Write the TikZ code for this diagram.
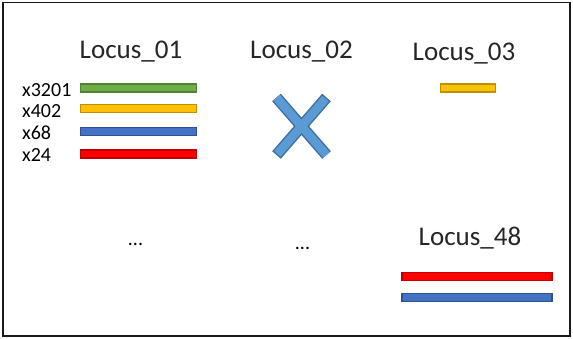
\documentclass[tikz,border=0pt]{standalone}
\usepackage{fontspec}
\setmainfont{Carlito}
\definecolor{grnfill}{HTML}{70AD47}
\definecolor{grnline}{HTML}{548235}
\definecolor{ylwfill}{HTML}{FFC000}
\definecolor{ylwline}{HTML}{BF9000}
\definecolor{bluefill}{HTML}{4472C4}
\definecolor{blueline}{HTML}{2F528F}
\definecolor{redfill}{HTML}{FF0000}
\definecolor{redline}{HTML}{C00000}
\definecolor{crossfill}{HTML}{5B9BD5}
\definecolor{crossline}{HTML}{41719C}
\tikzset{
  locus/.style={anchor=base, inner sep=0pt, font=\fontsize{27}{32}\selectfont, text=black!85},
  count/.style={anchor=base west, inner sep=0pt, font=\fontsize{20}{24}\selectfont},
  dots/.style={anchor=base, inner sep=0pt, font=\fontsize{20}{24}\selectfont},
  bar/.style={rectangle, inner sep=0pt, line width=1.5pt, minimum height=8pt},
  greenbar/.style={bar, fill=grnfill, draw=grnline},
  yellowbar/.style={bar, fill=ylwfill, draw=ylwline},
  bluebar/.style={bar, fill=bluefill, draw=blueline},
  redbar/.style={bar, fill=redfill, draw=redline},
}
\begin{document}
\begin{tikzpicture}[x=1pt, y=-1pt]
  \useasboundingbox (0,0) rectangle (573,339);
  % outer frame
  \draw[line width=1.5pt, black!90] (3,2.5) rectangle (570,336);

  % locus titles
  \node[locus] (l01) at (131,59) {Locus\_01};
  \node[locus] (l02) at (301.5,59) {Locus\_02};
  \node[locus] (l03) at (464,61) {Locus\_03};
  \node[locus] (l48) at (470,246) {Locus\_48};

  % read counts and their bars at Locus_01
  \node[count] (c1) at (22,97) {x3201};
  \node[count] (c2) at (22,118) {x402};
  \node[count] (c3) at (22,140) {x68};
  \node[count] (c4) at (22,162) {x24};
  \node[greenbar, minimum width=116pt] (b1) at (138.5,88) {};
  \node[yellowbar, minimum width=116pt] (b2) at (138.5,108.3) {};
  \node[bluebar, minimum width=116pt] (b3) at (138.5,131.3) {};
  \node[redbar, minimum width=116pt] (b4) at (138.5,154.2) {};

  % missing Locus_02: a cross
  \coordinate (xa) at (276.5,97.5);
  \coordinate (xb) at (326.5,155);
  \coordinate (xc) at (326.5,97.5);
  \coordinate (xd) at (276.5,155);
  \draw[crossline, line width=11.5pt] (xa) -- (xb) (xc) -- (xd);
  \draw[crossfill, line width=8.5pt, shorten <=1.5pt, shorten >=1.5pt] (xa) -- (xb) (xc) -- (xd);

  % Locus_03
  \node[yellowbar, minimum width=55pt] (b5) at (468,88) {};

  % Locus_48
  \node[redbar, minimum width=150pt] (b6) at (477,276.7) {};
  \node[bluebar, minimum width=150pt] (b7) at (477,297.3) {};

  % ellipses
  \node[dots] (d1) at (135.5,245.5) {...};
  \node[dots] (d2) at (302.5,249.5) {...};
\end{tikzpicture}
\end{document}
